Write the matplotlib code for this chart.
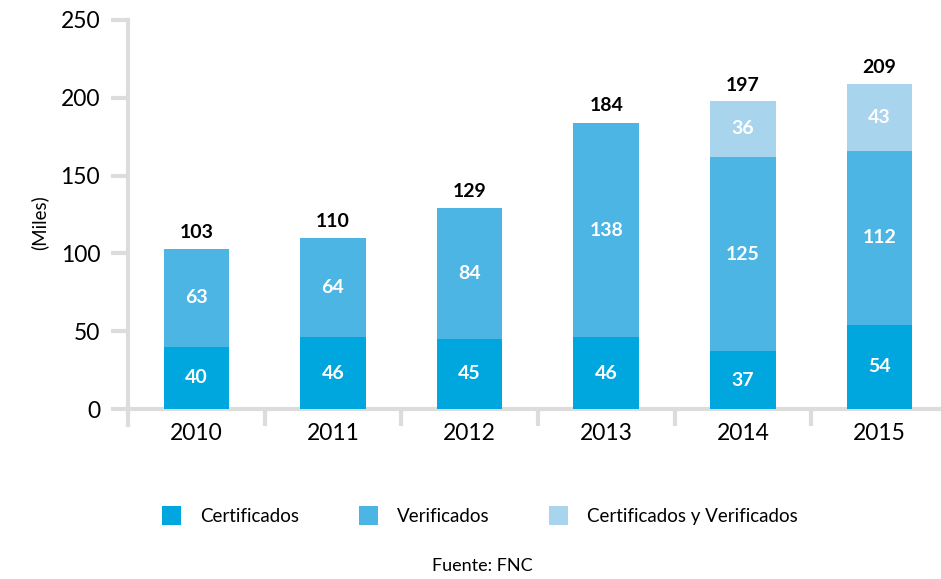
import matplotlib
matplotlib.use("Agg")
import matplotlib.pyplot as plt
import numpy as np

years = ["2010", "2011", "2012", "2013", "2014", "2015"]
certificados = [40, 46, 45, 46, 37, 54]
verificados = [63, 64, 84, 138, 125, 112]
cert_y_verif = [0, 0, 0, 0, 36, 43]
totales = [103, 110, 129, 184, 197, 209]
yticks = [0, 50, 100, 150, 200, 250]
series_names = ["Certificados", "Verificados", "Certificados y Verificados"]
colors = ["#00A7DF", "#4DB5E3", "#A8D4EE"]

plt.rcParams['font.family'] = ['Lato', 'DejaVu Sans']

fig = plt.figure(figsize=(9.41, 5.79), dpi=100)
ax = fig.add_axes([0.136, 0.2936, 0.864, 0.672])

x = np.arange(len(years))
w = 0.48
bottom = np.zeros(len(years))
bars = []
for vals, c, name in zip([certificados, verificados, cert_y_verif], colors, series_names):
    v = np.array(vals, dtype=float)
    b = ax.bar(x, v, w, bottom=bottom, color=c, label=name, zorder=3)
    bars.append(b)
    for xi, vi, bi in zip(x, v, bottom):
        if vi > 0:
            ax.text(xi, bi + vi / 2, f"{int(vi)}", ha='center', va='center',
                    color='white', fontsize=14, fontweight='bold', zorder=4)
    bottom = bottom + v

for xi, t in zip(x, totales):
    ax.annotate(f"{t}", (xi, t), xytext=(0, 12), textcoords='offset points',
                ha='center', va='center', fontsize=14, fontweight='bold', color='black')

ax.set_ylim(0, 250)
ax.set_xlim(-0.5, 5.45)
ax.set_yticks(yticks)
ax.set_yticklabels([str(t) for t in yticks], fontsize=16.5)
ax.set_xticks(x)
ax.set_xticklabels(years, fontsize=16.5)
ax.tick_params(axis='x', length=0, pad=10)
ax.tick_params(axis='y', length=12, width=3, color='#DCDCDC', pad=8)
ax.set_xticks(np.arange(-0.5, 5.5, 1.0)[1:], minor=True)
ax.tick_params(axis='x', which='minor', length=12, width=3, color='#DCDCDC', direction='out')

for s in ['top', 'right']:
    ax.spines[s].set_visible(False)
ax.spines['left'].set_color('#DCDCDC')
ax.spines['left'].set_linewidth(3)
ax.spines['left'].set_bounds(-10, 250)
ax.spines['bottom'].set_color('#DCDCDC')
ax.spines['bottom'].set_linewidth(3)
ax.set_ylabel("(Miles)", fontsize=13.5)
ax.yaxis.set_label_coords(-0.11, 0.48)
ax.yaxis.label.set_position((0, 0.48))
ax.yaxis.set_label_coords(-0.0985, 0.48)

fig.legend(handles=bars, labels=series_names, loc='center', bbox_to_anchor=(0.51, 0.11),
           ncol=3, frameon=False, fontsize=13.5, handlelength=1.0, handleheight=1.2,
           columnspacing=3.2, handletextpad=1.0)
fig.text(0.513, 0.022, "Fuente: FNC", ha='center', va='center', fontsize=13)

fig.savefig("out.png", dpi=100)
